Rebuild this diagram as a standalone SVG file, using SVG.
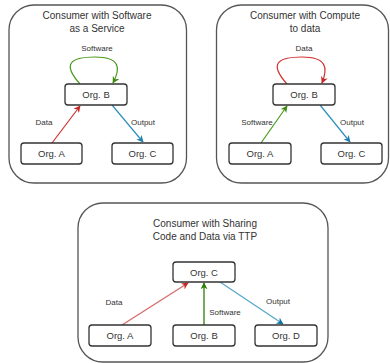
<svg xmlns="http://www.w3.org/2000/svg" width="390" height="363" viewBox="0 0 390 363">
  <style>
    .panel { fill: #ffffff; stroke: #555555; stroke-width: 1.3; }
    .node rect { fill: #ffffff; stroke: #333333; stroke-width: 1.3; }
    text { font-family: "Liberation Sans", Arial, sans-serif; fill: #333333; text-anchor: middle; }
    .title { font-size: 10px; }
    .node text { font-size: 9.5px; }
    .lbl { font-size: 8px; }
    .red { stroke: #d03030; fill: none; stroke-width: 1.2; }
    .green { stroke: #4a9a1c; fill: none; stroke-width: 1.2; }
    .blue { stroke: #2e8fbf; fill: none; stroke-width: 1.2; }
    .red2 { stroke: #d66a6a; fill: none; stroke-width: 1.3; }
    .green2 { stroke: #2e7d0a; fill: none; stroke-width: 1.3; }
    .blue2 { stroke: #5aa8cc; fill: none; stroke-width: 1.3; }
  </style>
  <defs>
    <marker id="ahRed" viewBox="0 0 10 10" refX="9" refY="5" markerWidth="7" markerHeight="7" markerUnits="userSpaceOnUse" orient="auto">
      <path d="M0,0 L10,5 L0,10 L3,5 z" fill="#c62828"/>
    </marker>
    <marker id="ahGreen" viewBox="0 0 10 10" refX="9" refY="5" markerWidth="7" markerHeight="7" markerUnits="userSpaceOnUse" orient="auto">
      <path d="M0,0 L10,5 L0,10 L3,5 z" fill="#3d8a10"/>
    </marker>
    <marker id="ahBlue" viewBox="0 0 10 10" refX="9" refY="5" markerWidth="7" markerHeight="7" markerUnits="userSpaceOnUse" orient="auto">
      <path d="M0,0 L10,5 L0,10 L3,5 z" fill="#1f7fae"/>
    </marker>
    <marker id="ahGreen2" viewBox="0 0 10 10" refX="9" refY="5" markerWidth="7" markerHeight="7" markerUnits="userSpaceOnUse" orient="auto">
      <path d="M0,0 L10,5 L0,10 L3,5 z" fill="#2e7d0a"/>
    </marker>
    <marker id="ahBlue2" viewBox="0 0 10 10" refX="9" refY="5" markerWidth="7" markerHeight="7" markerUnits="userSpaceOnUse" orient="auto">
      <path d="M0,0 L10,5 L0,10 L3,5 z" fill="#10739e"/>
    </marker>
  </defs>

  <!-- Panel frames and titles -->
  <g id="panel-saas">
    <rect class="panel" x="9" y="5" width="177.5" height="178" rx="25"/>
    <text class="title" x="97" y="19">Consumer with Software</text>
    <text class="title" x="97" y="32">as a Service</text>
  </g>
  <g id="panel-c2d">
    <rect class="panel" x="216.5" y="5" width="172" height="178" rx="25"/>
    <text class="title" x="305" y="19">Consumer with Compute</text>
    <text class="title" x="305" y="32">to data</text>
  </g>
  <g id="panel-ttp">
    <rect class="panel" x="78" y="203" width="250" height="159" rx="25"/>
    <text class="title" x="205" y="227">Consumer with Sharing</text>
    <text class="title" x="205" y="240">Code and Data via TTP</text>
  </g>

  <!-- Connectors -->
  <g id="connectors">
    <!-- Software as a Service -->
    <path class="green" d="M80,84 C62,64 70,57 95,57 C120,57 121,68 113,83" marker-end="url(#ahGreen)"/>
    <line class="red" x1="52" y1="143" x2="80" y2="106" marker-end="url(#ahRed)"/>
    <line class="blue" x1="112" y1="105" x2="143" y2="142" marker-end="url(#ahBlue)"/>
    <text class="lbl" x="97" y="51">Software</text>
    <text class="lbl" x="44" y="125">Data</text>
    <text class="lbl" x="143" y="125">Output</text>

    <!-- Compute to data -->
    <path class="red" d="M287,84 C269,64 277,57 302,57 C327,57 328,68 322,83" marker-end="url(#ahRed)"/>
    <line class="green" x1="261" y1="143" x2="287" y2="106" marker-end="url(#ahGreen)"/>
    <line class="blue" x1="320" y1="105" x2="350" y2="142" marker-end="url(#ahBlue)"/>
    <text class="lbl" x="304" y="51">Data</text>
    <text class="lbl" x="257" y="125">Software</text>
    <text class="lbl" x="352" y="125">Output</text>

    <!-- Sharing via TTP -->
    <line class="red2" x1="122" y1="325" x2="188" y2="283" marker-end="url(#ahRed)"/>
    <line class="green2" x1="204" y1="325" x2="204" y2="283" marker-end="url(#ahGreen2)"/>
    <line class="blue2" x1="220" y1="282" x2="283" y2="324" marker-end="url(#ahBlue2)"/>
    <text class="lbl" x="114" y="305">Data</text>
    <text class="lbl" x="225" y="315">Software</text>
    <text class="lbl" x="278" y="304">Output</text>
  </g>

  <!-- Nodes -->
  <g id="saas-org-b" class="node">
    <rect x="65" y="84" width="62" height="21" rx="3"/>
    <text x="96" y="98">Org. B</text>
  </g>
  <g id="saas-org-a" class="node">
    <rect x="21" y="143" width="61" height="21" rx="3"/>
    <text x="51.5" y="157">Org. A</text>
  </g>
  <g id="saas-org-c" class="node">
    <rect x="112" y="143" width="61" height="21" rx="3"/>
    <text x="142.5" y="157">Org. C</text>
  </g>

  <g id="c2d-org-b" class="node">
    <rect x="273" y="84" width="62" height="21" rx="3"/>
    <text x="304" y="98">Org. B</text>
  </g>
  <g id="c2d-org-a" class="node">
    <rect x="229" y="143" width="62" height="21" rx="3"/>
    <text x="260" y="157">Org. A</text>
  </g>
  <g id="c2d-org-c" class="node">
    <rect x="321" y="143" width="61" height="21" rx="3"/>
    <text x="351.5" y="157">Org. C</text>
  </g>

  <g id="ttp-org-c" class="node">
    <rect x="173" y="262" width="62" height="20" rx="3"/>
    <text x="204" y="275.5">Org. C</text>
  </g>
  <g id="ttp-org-a" class="node">
    <rect x="89" y="325" width="62" height="21" rx="3"/>
    <text x="120" y="339">Org. A</text>
  </g>
  <g id="ttp-org-b" class="node">
    <rect x="173" y="325" width="62" height="21" rx="3"/>
    <text x="204" y="339">Org. B</text>
  </g>
  <g id="ttp-org-d" class="node">
    <rect x="255" y="325" width="62" height="21" rx="3"/>
    <text x="286" y="339">Org. D</text>
  </g>
</svg>
